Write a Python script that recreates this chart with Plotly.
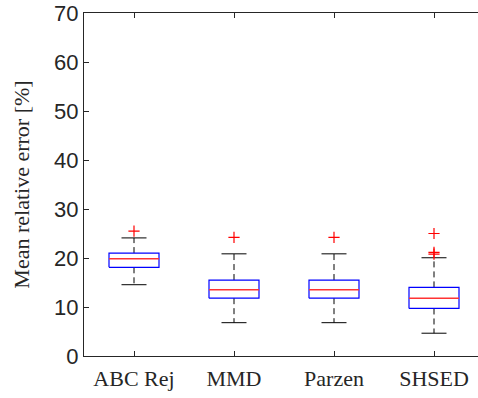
import plotly.graph_objects as go

# Summary statistics per method (values in %)
methods = ["ABC Rej", "MMD", "Parzen", "SHSED"]
q1 = [18.1, 11.8, 11.8, 9.7]
median = [19.85, 13.5, 13.5, 11.8]
q3 = [21.0, 15.5, 15.5, 14.0]
lower_whisker = [14.55, 6.8, 6.8, 4.65]
upper_whisker = [24.1, 20.85, 20.85, 20.05]
outliers = [[25.5], [24.2], [24.2], [25.0, 21.15, 20.8]]

BOX_HALF = 0.25
CAP_HALF = 0.125
AXIS_COLOR = "#262626"

fig = go.Figure()

for i, name in enumerate(methods):
    x = i + 1
    # whiskers (dashed black)
    for a, b in ((q3[i], upper_whisker[i]), (q1[i], lower_whisker[i])):
        fig.add_trace(go.Scatter(
            x=[x, x], y=[a, b], mode="lines",
            line=dict(color="black", width=1, dash="6px,4px"),
            hoverinfo="skip", showlegend=False))
    # whisker caps
    for v in (upper_whisker[i], lower_whisker[i]):
        fig.add_trace(go.Scatter(
            x=[x - CAP_HALF, x + CAP_HALF], y=[v, v], mode="lines",
            line=dict(color="black", width=1),
            hoverinfo="skip", showlegend=False))
    # box
    fig.add_trace(go.Scatter(
        x=[x - BOX_HALF, x + BOX_HALF, x + BOX_HALF, x - BOX_HALF, x - BOX_HALF],
        y=[q1[i], q1[i], q3[i], q3[i], q1[i]], mode="lines",
        line=dict(color="#0000ff", width=1.2),
        hoverinfo="skip", showlegend=False))
    # median
    fig.add_trace(go.Scatter(
        x=[x - BOX_HALF, x + BOX_HALF], y=[median[i], median[i]], mode="lines",
        line=dict(color="#ff3333", width=1.5),
        hoverinfo="skip", showlegend=False))
    # outliers
    fig.add_trace(go.Scatter(
        x=[x] * len(outliers[i]), y=outliers[i], mode="markers",
        marker=dict(symbol="cross-thin-open", size=8, color="red",
                    line=dict(color="red", width=1.2)),
        hoverinfo="skip", showlegend=False))

fig.update_layout(
    width=478, height=398,
    margin=dict(l=84, r=0, t=13, b=42),
    paper_bgcolor="white", plot_bgcolor="white",
    showlegend=False,
)

fig.update_xaxes(
    range=[0.5, 4.44], automargin=False,
    tickvals=[1, 2, 3, 4], ticktext=methods,
    ticks="inside", ticklen=5, tickcolor=AXIS_COLOR, tickwidth=1,
    showline=True, linecolor=AXIS_COLOR, linewidth=1, mirror="ticks",
    showgrid=False, zeroline=False,
    tickfont=dict(family="Liberation Serif", size=22, color="#262626"),
    ticklabelstandoff=3,
)
fig.update_yaxes(
    range=[0, 70], tickvals=[0, 10, 20, 30, 40, 50, 60, 70], automargin=False,
    ticks="inside", ticklen=5, tickcolor=AXIS_COLOR, tickwidth=1,
    showline=True, linecolor=AXIS_COLOR, linewidth=1, mirror=False,
    showgrid=False, zeroline=False,
    tickfont=dict(family="Liberation Sans", size=22, color="#262626"),
    title=dict(text="Mean relative error [%]",
               font=dict(family="Liberation Serif", size=22, color="#262626"),
               standoff=18),
)

fig.write_html("out.html")
